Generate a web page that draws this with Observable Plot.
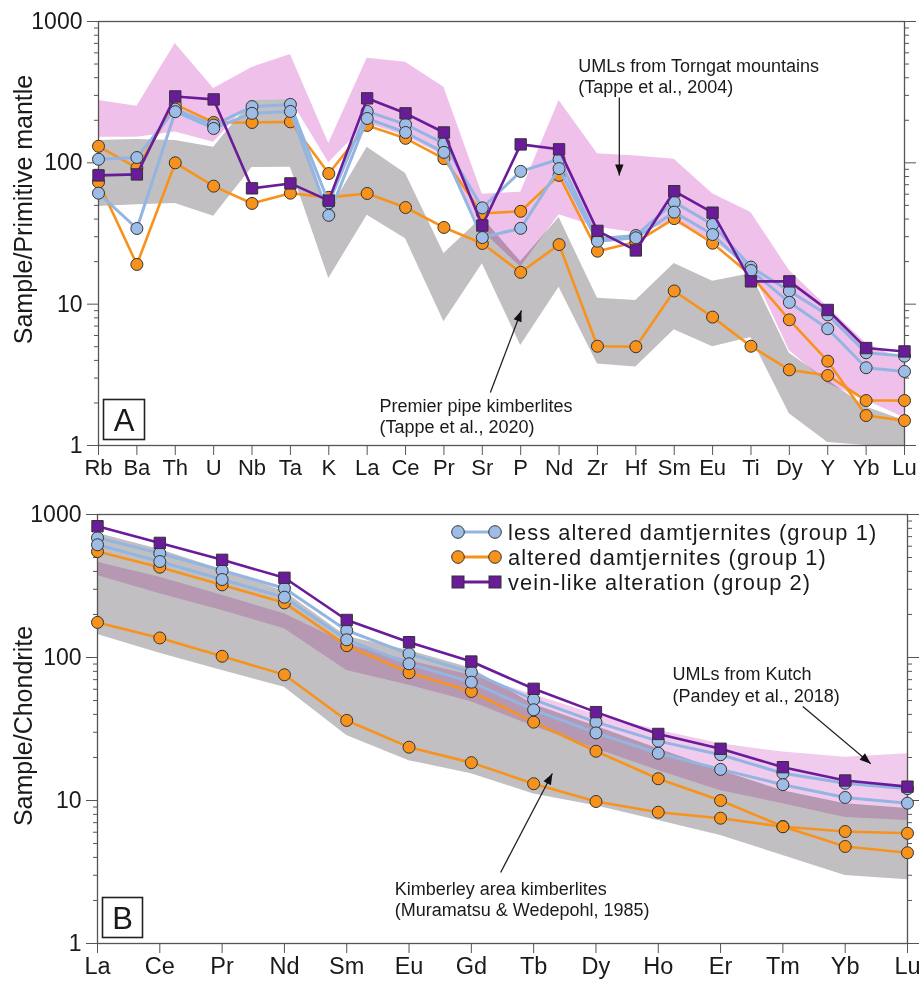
<!DOCTYPE html>
<html><head><meta charset="utf-8">
<script src="https://cdn.jsdelivr.net/npm/d3@7"></script>
<script src="https://cdn.jsdelivr.net/npm/@observablehq/plot@0.6"></script>
<style>
body{margin:0;background:#fff;font-family:"Liberation Sans",Arial,sans-serif;}
#wrap{position:relative;width:920px;height:981px;overflow:hidden}
#wrap > svg{display:block}
.ov{position:absolute;left:0;top:0;pointer-events:none}
</style></head><body><div id="wrap"></div>
<script>
// ---------- Panel A: primitive-mantle normalised ----------
const elemsA = ["Rb","Ba","Th","U","Nb","Ta","K","La","Ce","Pr","Sr","P","Nd","Zr","Hf","Sm","Eu","Ti","Dy","Y","Yb","Lu"];
const lessA1 = [106,109,240,185,250,259,52,231,187,137,48,87,106,29,30.6,52.7,36.6,18.3,12.4,8.4,4.53,4.29];
const lessA2 = [61,34.3,230,175,224,231,42.5,206,164,118.6,29.6,34.4,91,27.9,29.5,44.8,31.1,17.3,10.3,6.7,3.55,3.34];
const altA1  = [131,92,259,193,193,195,84,184,149,107,43.8,45.4,81.5,23.7,27.5,40.3,27,16,7.75,3.95,1.63,1.50];
const altA2  = [73,19.1,100,68.4,51.6,61,57,60.7,48.3,34.9,26.9,16.8,26.4,5.04,5.0,12.4,8.1,5.04,3.43,3.13,2.08,2.08];
const veinA  = [81.5,82.8,295,281,66,71.5,54,286,224,164,36,135,124.6,33,24,63,44.4,14.5,14.5,9.1,4.89,4.63];
const torngatHi = [276,251,700,336,473,585,137,549,515,342,60,62,276,116,112,106,60.5,44.6,17.3,9.5,5.3,4.0];
const torngatLo = [152,152,165,140,276,281,100,190,155,112,33,18.3,43,35,32,38,28,18,4.7,2.75,2.08,1.57];
const premierHi = [144,146,144,129,276,281,45,129,84,22.8,41,20,41,11,10.6,19.4,14.5,16.4,4.5,2.9,1.87,1.5];
const premierLo = [49,50.6,51.6,41.8,92.7,93,15.2,42.5,29,7.5,19.3,5.1,13.2,3.78,3.6,6.6,5.0,5.8,1.68,1.05,1,1];
// annotation anchors (element index, value)
const noteTorngat = {x:12.5, y:557, text:"UMLs from Torngat mountains\n(Tappe et al., 2004)"};
const arrowTorngat = {x1:13.57, y1:290, x2:13.57, y2:81.5, rot:180};
const notePremier = {x:7.32, y:2.19, text:"Premier pipe kimberlites\n(Tappe et al., 2020)"};
const arrowPremier = {x1:10.21, y1:2.37, x2:11.02, y2:9.02, rot:20.7};

// ---------- Panel B: chondrite normalised REE ----------
const elemsB = ["La","Ce","Pr","Nd","Sm","Eu","Gd","Tb","Dy","Ho","Er","Tm","Yb","Lu"];
const lessB1 = [687,536,406,305,154.5,106,78.9,50.8,35.3,26,20.9,15.5,13.2,12.1];
const lessB2 = [614,469,351,264,133,90.4,67.2,43.1,29.7,21.4,16.5,12.9,10.5,9.58];
const altB1  = [551,428,322,241,121,78.2,57.8,35.3,22.1,14.2,10,6.58,4.77,4.31];
const altB2  = [176,137,102,75.7,36.3,23.6,18.4,13.1,9.84,8.28,7.52,6.55,6.07,5.9];
const veinB  = [828,633,482,361,183,128,93.7,60.4,41.5,29.2,23,17.1,13.8,12.5];
const kimbHi = [740,570,410,290,140,112,84,47,33,23,16.2,11.7,9.5,8.8];
const kimbLo = [145,107,81,62,28.5,19,15.4,11.1,9.2,7.25,5.7,4.12,2.99,2.79];
const kutchHi = [464,364,272,202,125,95,75,55,40,31,24.9,21.8,20.1,21.2];
const kutchLo = [375,279,213,159,81,64,49,33,23,16.2,11.7,9.5,7.6,7.25];
const noteKutch = {x:9.23, y:87.9, text:"UMLs from Kutch\n(Pandey et al., 2018)"};
const arrowKutch = {x1:11.32, y1:45.4, x2:12.41, y2:18.1, rot:130};
const noteKimb = {x:4.77, y:2.76, text:"Kimberley area kimberlites\n(Muramatsu & Wedepohl, 1985)"};
const arrowKimb = {x1:6.47, y1:3.14, x2:7.30, y2:15.45, rot:27.7};

const legendLabels = ["less altered damtjernites (group 1)","altered damtjernites (group 1)","vein-like alteration (group 2)"];

// ---------- styles ----------
const C = {
  blueLine:"#93b5e1", blueFill:"#9dbde6", orange:"#f7931d", purple:"#6a1b9a",
  pinkA:"#efc1ea", pinkB:"#f1cbed", gray:"#c1bfc1", edge:"#333", axis:"#555", text:"#1a1a1a"
};
const FONT = '"Liberation Sans", Arial, Helvetica, sans-serif';
const majors = [1,10,100,1000];
const minors = [];
for (const d of [1,10,100]) for (let k=2;k<=9;k++) minors.push(d*k);

const arrowHead = { draw(ctx){ ctx.moveTo(0,0); ctx.lineTo(-4.2,11); ctx.lineTo(4.2,11); ctx.closePath(); } };

const rows = arr => arr.map((v,i)=>({i, v}));

function seriesMarks(s){
  const out = [];
  for (const a of s.alt) out.push(Plot.line(rows(a), {x:"i", y:"v", stroke:C.orange, strokeWidth:2.6}));
  for (const a of s.alt) out.push(Plot.dot(rows(a), {x:"i", y:"v", r:6, fill:C.orange, stroke:C.edge, strokeWidth:1}));
  for (const a of s.less) out.push(Plot.line(rows(a), {x:"i", y:"v", stroke:C.blueLine, strokeWidth:3}));
  for (const a of s.less) out.push(Plot.dot(rows(a), {x:"i", y:"v", r:6, fill:C.blueFill, stroke:C.edge, strokeWidth:1}));
  out.push(Plot.line(rows(s.vein), {x:"i", y:"v", stroke:C.purple, strokeWidth:2.6}));
  out.push(Plot.dot(rows(s.vein), {x:"i", y:"v", r:6.4, symbol:"square", fill:C.purple, stroke:C.edge, strokeWidth:1}));
  return out;
}
function bandMark(hi, lo, fill){
  return Plot.areaY(d3.range(hi.length), {x:i=>i, y1:i=>lo[i], y2:i=>hi[i], fill, mixBlendMode:"multiply"});
}
function noteMarks(note, arrow){
  return [
    Plot.text([note], {x:"x", y:"y", text:"text", textAnchor:"start", lineAnchor:"top", fontSize:18, lineHeight:1.17, fill:C.text}),
    Plot.link([arrow], {x1:"x1", y1:"y1", x2:"x2", y2:"y2", stroke:"#222", strokeWidth:1.3}),
    Plot.dot([arrow], {x:"x2", y:"y2", symbol:arrowHead, r:4, fill:"#111", stroke:"none", rotate:arrow.rot})
  ];
}
function axes(elems, fs){
  return [
    Plot.axisY({ticks:minors, tickSize:4, tickFormat:()=>"", label:null, stroke:C.axis}),
    Plot.axisY({ticks:majors, tickSize:11, tickPadding:5, fontSize:23, tickFormat:d=>String(d), label:null, stroke:C.axis}),
    Plot.axisY({anchor:"right", ticks:minors, tickSize:4, tickFormat:()=>"", label:null, stroke:C.axis}),
    Plot.axisY({anchor:"right", ticks:majors, tickSize:11, tickFormat:()=>"", label:null, stroke:C.axis}),
    Plot.axisX({ticks:d3.range(elems.length), tickSize:10, tickPadding:4, fontSize:fs, tickFormat:i=>elems[i], label:null, stroke:C.axis}),
    Plot.frame({stroke:C.axis, strokeWidth:1.3})
  ];
}

const plotA = Plot.plot({
  width:920, height:478, marginLeft:98, marginRight:16, marginTop:21, marginBottom:33,
  style:{fontFamily:FONT, color:C.text, background:"transparent", overflow:"visible"},
  x:{domain:[0,elemsA.length-1]},
  y:{type:"log", domain:[1,1000]},
  marks:[
    bandMark(torngatHi, torngatLo, C.pinkA),
    bandMark(premierHi, premierLo, C.gray),
    ...axes(elemsA, 22),
    ...seriesMarks({alt:[altA1, altA2], less:[lessA1, lessA2], vein:veinA}),
    ...noteMarks(noteTorngat, arrowTorngat),
    ...noteMarks(notePremier, arrowPremier)
  ]
});
const plotB = Plot.plot({
  width:920, height:503, marginLeft:97, marginRight:13, marginTop:36, marginBottom:38,
  style:{fontFamily:FONT, color:C.text, background:"transparent", overflow:"visible"},
  x:{domain:[0,elemsB.length-1]},
  y:{type:"log", domain:[1,1000]},
  marks:[
    bandMark(kimbHi, kimbLo, C.gray),
    bandMark(kutchHi, kutchLo, C.pinkB),
    ...axes(elemsB, 23.5),
    ...seriesMarks({alt:[altB1, altB2], less:[lessB1, lessB2], vein:veinB}),
    ...noteMarks(noteKutch, arrowKutch),
    ...noteMarks(noteKimb, arrowKimb)
  ]
});
for (const p of [plotA, plotB]) {
  p.querySelectorAll('g[aria-label="area"]').forEach(g => g.style.mixBlendMode = "multiply");
}
const wrap = document.getElementById("wrap");
wrap.appendChild(plotA);
wrap.appendChild(plotB);

// ---------- overlay: axis titles, panel letters, legend ----------
const NS = "http://www.w3.org/2000/svg";
const ov = document.createElementNS(NS, "svg");
ov.setAttribute("class","ov"); ov.setAttribute("width",920); ov.setAttribute("height",981);
ov.style.fontFamily = FONT;
function el(tag, attrs, txt){ const e=document.createElementNS(NS,tag); for (const k in attrs) e.setAttribute(k, attrs[k]); if (txt!=null) e.textContent=txt; ov.appendChild(e); return e; }
el("text", {transform:"translate(32,209.5) rotate(-90)", "text-anchor":"middle", "font-size":25, fill:C.text}, "Sample/Primitive mantle");
el("text", {transform:"translate(32,726) rotate(-90)", "text-anchor":"middle", "font-size":25, fill:C.text}, "Sample/Chondrite");
el("rect", {x:103.5, y:399.5, width:41, height:40, fill:"#fff", stroke:"#222", "stroke-width":1.6});
el("text", {x:124, y:431, "text-anchor":"middle", "font-size":31, fill:C.text}, "A");
el("rect", {x:102.5, y:897.5, width:40, height:40, fill:"#fff", stroke:"#222", "stroke-width":1.6});
el("text", {x:122.5, y:929, "text-anchor":"middle", "font-size":31, fill:C.text}, "B");
const legY = [532, 557, 582];
const legStyle = [
  {stroke:C.blueLine, fill:C.blueFill, sym:"circle"},
  {stroke:C.orange, fill:C.orange, sym:"circle"},
  {stroke:C.purple, fill:C.purple, sym:"square"}
];
legendLabels.forEach((lab, k) => {
  const y = legY[k], st = legStyle[k];
  el("line", {x1:458, x2:495, y1:y, y2:y, stroke:st.stroke, "stroke-width":3});
  for (const x of [458, 495]) {
    if (st.sym === "circle") el("circle", {cx:x, cy:y, r:6.3, fill:st.fill, stroke:C.edge, "stroke-width":1});
    else el("rect", {x:x-6, y:y-6, width:12, height:12, fill:st.fill, stroke:C.edge, "stroke-width":1});
  }
  el("text", {x:508, y:y+8, "font-size":21.8, "letter-spacing":"1.1px", fill:C.text}, lab);
});
wrap.appendChild(ov);
</script></body></html>
